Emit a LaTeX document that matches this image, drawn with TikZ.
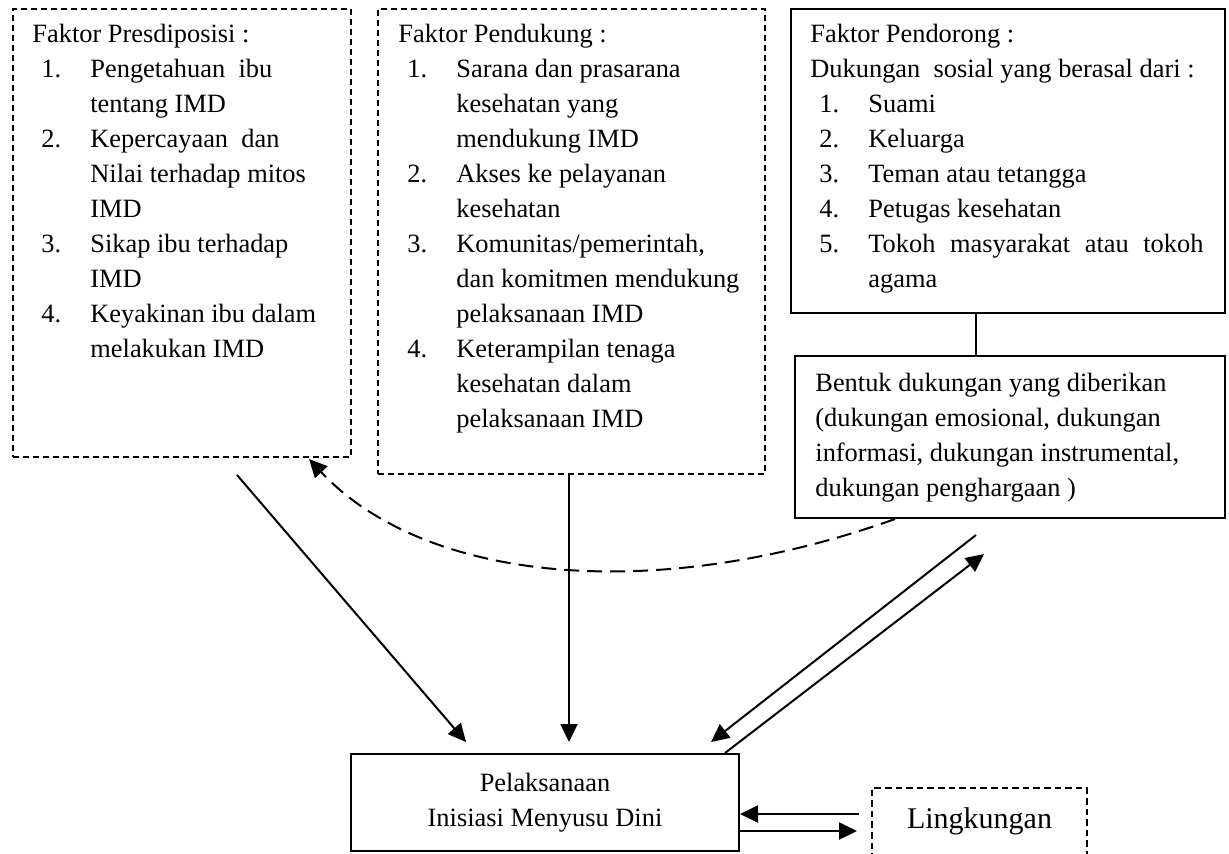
\documentclass[tikz,border=0pt]{standalone}
\usepackage{fontspec}
\setmainfont{Liberation Serif}
\usetikzlibrary{positioning,arrows.meta,calc}

\newcommand{\nomor}[1]{\makebox[29pt][l]{\hspace{4.5pt}#1}}

\begin{document}
\begin{tikzpicture}[x=0.5pt, y=-0.5pt, >={Triangle[length=9pt,width=8.5pt]},
    kotak/.style={draw, line width=1pt, rectangle, inner sep=0pt, anchor=north west},
    kotakputus/.style={kotak, dash pattern=on 3pt off 2pt},
    isi/.style={anchor=north west, inner sep=0pt, font=\fontsize{13.2pt}{17.5pt}\selectfont},
    panah/.style={->, line width=1pt}]

    \useasboundingbox (0,0) rectangle (1229,853);

    % Faktor presdiposisi
    \node[kotakputus, minimum width=169pt, minimum height=224pt] (presdis) at (12,8) {};
    \node[isi] (teksA) at ([shift={(20,9.5)}]presdis.north west) {\begin{tabular}{@{}l@{}l@{}}
        \multicolumn{2}{@{}l@{}}{Faktor Presdiposisi :}\\
        \nomor{1.} & Pengetahuan\ \ ibu\\
         & tentang IMD\\
        \nomor{2.} & Kepercayaan\ \ dan\\
         & Nilai terhadap mitos\\
         & IMD\\
        \nomor{3.} & Sikap ibu terhadap\\
         & IMD\\
        \nomor{4.} & Keyakinan ibu dalam\\
         & melakukan IMD
    \end{tabular}};

    % Faktor pendukung
    \node[kotakputus, minimum width=193.5pt, minimum height=232.5pt] (pendukung) at (377,8) {};
    \node[isi] (teksB) at ([shift={(21,9.5)}]pendukung.north west) {\begin{tabular}{@{}l@{}l@{}}
        \multicolumn{2}{@{}l@{}}{Faktor Pendukung :}\\
        \nomor{1.} & Sarana dan prasarana\\
         & kesehatan yang\\
         & mendukung IMD\\
        \nomor{2.} & Akses ke pelayanan\\
         & kesehatan\\
        \nomor{3.} & Komunitas/pemerintah,\\
         & dan komitmen mendukung\\
         & pelaksanaan IMD\\
        \nomor{4.} & Keterampilan tenaga\\
         & kesehatan dalam\\
         & pelaksanaan IMD
    \end{tabular}};

    % Faktor pendorong
    \node[kotak, minimum width=217pt, minimum height=152pt] (pendorong) at (790,8) {};
    \node[isi] (teksC) at ([shift={(20,9.5)}]pendorong.north west) {\begin{tabular}{@{}l@{}l@{}}
        \multicolumn{2}{@{}l@{}}{Faktor Pendorong :}\\
        \multicolumn{2}{@{}l@{}}{Dukungan\ \ sosial yang berasal dari :}\\
        \nomor{1.} & Suami\\
        \nomor{2.} & Keluarga\\
        \nomor{3.} & Teman atau tetangga\\
        \nomor{4.} & Petugas kesehatan\\
        \nomor{5.} & \makebox[167.5pt][s]{Tokoh masyarakat atau tokoh}\\
         & agama
    \end{tabular}};

    % Bentuk dukungan
    \node[kotak, minimum width=215pt, minimum height=81pt] (bentuk) at (794,355) {};
    \node[isi] (teksD) at ([shift={(21,11.5)}]bentuk.north west) {\begin{tabular}{@{}l@{}}
        Bentuk dukungan yang diberikan\\
        (dukungan emosional, dukungan\\
        informasi, dukungan instrumental,\\
        dukungan penghargaan )
    \end{tabular}};

    % Pelaksanaan IMD dan lingkungan
    \node[kotak, minimum width=194pt, minimum height=48.5pt, align=center,
        font=\fontsize{13.2pt}{17.5pt}\selectfont] (pelak) at (350,753) {Pelaksanaan\\Inisiasi Menyusu Dini};
    \node[kotakputus, anchor=north, minimum width=107.5pt, inner ysep=9.8pt, text height=10.2pt,
        text depth=30pt, dash pattern=on 3.3pt off 2pt, font=\fontsize{15pt}{18pt}\selectfont] (lingk) at (979.5,787) {Lingkungan};

    % Hubungan
    \draw[line width=1pt] ([xshift=-16pt]pendorong.south) -- ([xshift=-16pt]pendorong.south |- bentuk.north);
    \draw[panah] ([shift={(55,17)}]presdis.south) -- ([shift={(-79,-11)}]pelak.north);
    \draw[panah] ([xshift=-1.25pt]pendukung.south) -- ([xshift=-1.25pt, yshift=5.5pt]pendukung.south |- pelak.north);
    \draw[panah] ([shift={(-34,16)}]bentuk.south) -- ([shift={(-29,-11)}]pelak.north east);
    \draw[panah] ([shift={(-15,0)}]pelak.north east) -- ([shift={(-26,35)}]bentuk.south);
    \draw[panah, dash pattern=on 7.5pt off 4pt] ([shift={(101,0)}]bentuk.south west)
        .. controls (651,606) and (423,581) .. ([shift={(-43,1)}]presdis.south east);
    \draw[panah] ([shift={(-12,11.5)}]lingk.west |- pelak.east) -- ([yshift=-5.75pt]pelak.east);
    \draw[panah] ([yshift=-14.25pt]pelak.east) -- ([shift={(-14,28.5)}]lingk.west |- pelak.east);

\end{tikzpicture}
\end{document}
